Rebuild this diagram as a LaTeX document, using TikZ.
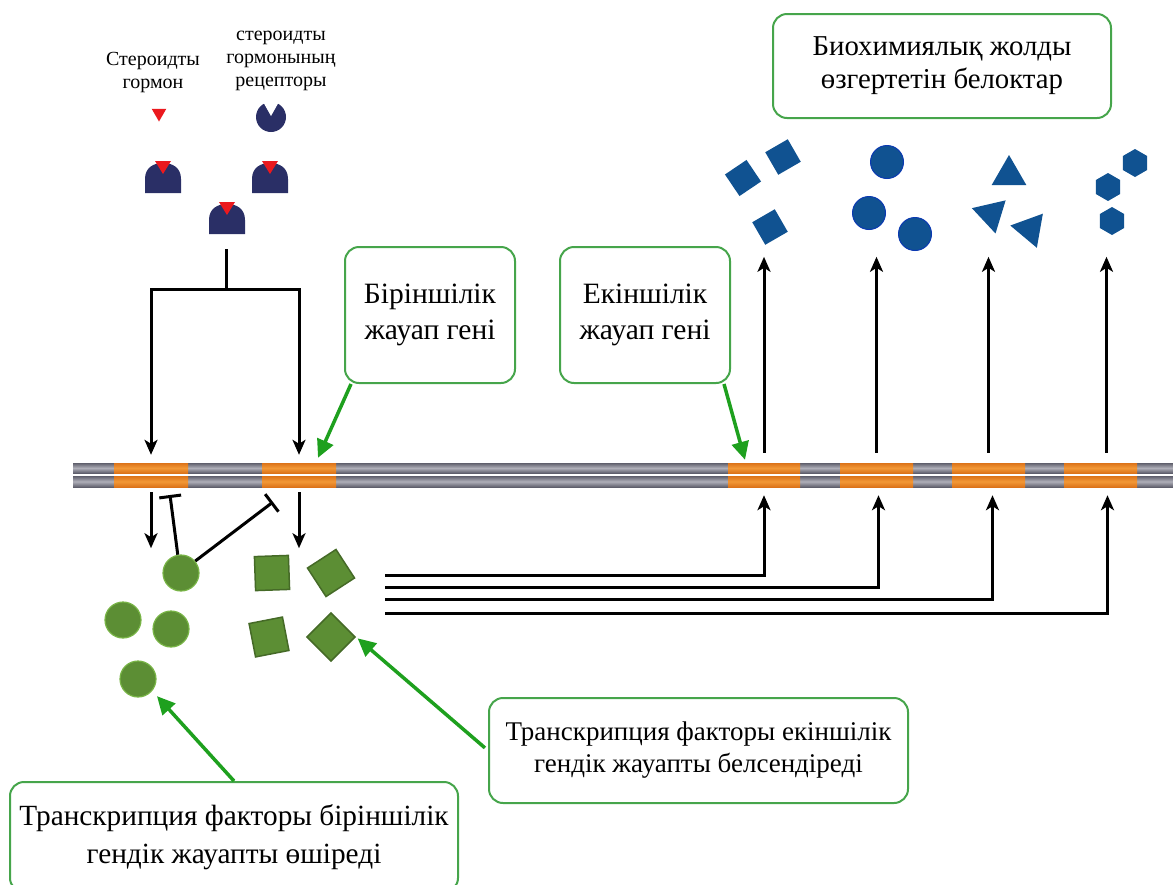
\documentclass[tikz,border=0pt]{standalone}
\usepackage{fontspec}
\setmainfont{Liberation Serif}
\usetikzlibrary{arrows.meta,shapes.geometric}
\definecolor{boxgreen}{RGB}{70,165,75}
\definecolor{arrgreen}{RGB}{30,160,30}
\definecolor{tfgreen}{RGB}{92,142,52}
\definecolor{tfrim}{RGB}{120,180,70}
\definecolor{protblue}{RGB}{16,82,145}
\definecolor{navyrec}{RGB}{42,47,102}
\definecolor{hormred}{RGB}{235,25,30}
\definecolor{dnagrey}{RGB}{95,95,108}
\definecolor{dnalight}{RGB}{175,175,185}
\definecolor{dnaor}{RGB}{220,115,25}
\definecolor{dnaorl}{RGB}{242,152,55}
\tikzset{
  arr/.style={line width=3pt,-{Stealth[length=15pt,width=13pt,inset=4pt]}},
  inhib/.style={line width=3pt,-{Bar[width=22pt]}},
  plain/.style={line width=3pt},
  garr/.style={draw=arrgreen,line width=3.5pt,-{Triangle[length=18pt,width=17pt]}},
  tbox/.style={draw=boxgreen,line width=2pt,rounded corners=14pt,align=center,fill=white,inner sep=0pt},
  segbox/.style={rectangle,inner sep=0pt,top color=dnaor,bottom color=dnaor,middle color=dnaorl},
  tfc/.style={circle,fill=tfgreen,draw=tfrim,line width=1.2pt,minimum size=36pt,inner sep=0pt},
  tfs/.style={rectangle,fill=tfgreen,draw=tfgreen!75!black,line width=1.5pt,minimum size=34pt,inner sep=0pt},
  bsq/.style={rectangle,fill=protblue,minimum size=26pt,inner sep=0pt},
  bci/.style={circle,fill=protblue,draw=protblue!70!blue,line width=1pt,minimum size=33pt,inner sep=0pt},
  btr/.style={regular polygon,regular polygon sides=3,fill=protblue,minimum size=40pt,inner sep=0pt},
  bhx/.style={regular polygon,regular polygon sides=6,fill=protblue,minimum size=28pt,inner sep=0pt},
  hormone/.style={regular polygon,regular polygon sides=3,shape border rotate=180,fill=hormred,minimum size=17pt,inner sep=0pt},
  complex/.pic={
    \fill[navyrec] (-18,15) -- (-18,1) .. controls (-18,-10) and (-10,-15) .. (0,-15)
      .. controls (10,-15) and (18,-10) .. (18,1) -- (18,15) -- cycle;
    \fill[hormred] (-8,-17) -- (8,-17) -- (0,-4) -- cycle;
  },
  receptor/.pic={
    \fill[navyrec] (0,0) circle (15);
    \fill[white] (-9,-17) -- (9,-17) -- (0,-1) -- cycle;
  },
}
\begin{document}
\begin{tikzpicture}[x=1pt,y=-1pt]
\useasboundingbox (0,0) rectangle (1173,884);
\clip (0,0) rectangle (1173,884);

% ---------- DNA ----------
\shade[top color=dnagrey,bottom color=dnagrey,middle color=dnalight] (73,463) rectangle (1173,473);
\shade[top color=dnagrey,bottom color=dnagrey,middle color=dnalight] (73,476) rectangle (1173,487);
\foreach \n/\cx/\w in {1/151/74,2/299/74,3/764/72,4/876.5/73,5/988.5/73,6/1100.5/73}{
  \node[segbox,minimum width=\w pt,minimum height=10pt] (s\n t) at (\cx,468) {};
  \node[segbox,minimum width=\w pt,minimum height=11pt] (s\n b) at (\cx,481.5) {};
}

% ---------- hormone and receptors ----------
\node[font=\fontsize{20}{23}\selectfont,align=center] (lh) at (153,73) {Стероидты\\гормон};
\node[font=\fontsize{20}{23}\selectfont,align=center] (lr) at (281,61) {стероидты\\гормонының\\рецепторы};
\node[hormone] (h) at (159,113) {};
\pic at (271,117) {receptor};
\pic at (163,178) {complex};
\pic at (270,178) {complex};
\pic at (227,219) {complex};
\coordinate (c3b) at (226,249);
\coordinate (split) at (226,289);
\draw[plain] (c3b) -- (split);
\draw[arr] (split) -| ([yshift=8pt]s1t.north);
\draw[arr] (split) -| ([yshift=8pt]s2t.north);

% ---------- transcription factors ----------
\node[tfc] (gc1) at (181,573) {};
\node[tfc] (gc2) at (123,620) {};
\node[tfc] (gc3) at (171,629) {};
\node[tfc] (gc4) at (138,679) {};
\node[tfs,rotate=2] (ts1) at (272,573) {};
\node[tfs,rotate=33] (ts2) at (331,573) {};
\node[tfs,rotate=11] (ts3) at (269,637) {};
\node[tfs,rotate=45] (ts4) at (331,637) {};

\draw[arr] ([yshift=-5pt]s1b.south) -- ++(0,56);
\draw[arr] ([yshift=-5pt]s2b.south) -- ++(0,56);
\coordinate (i1) at (170,495);
\coordinate (i2) at (273,502);
\draw[inhib] (gc1.100) -- (i1);
\draw[inhib] (gc1.40) -- (i2);

% ---------- secondary gene activation ----------
\coordinate (l1) at (385,575);
\coordinate (l2) at (385,587);
\coordinate (l3) at (385,599);
\coordinate (l4) at (385,613);
\draw[arr] (l1) -| ([yshift=-8pt]s3b.south);
\draw[arr] (l2) -| ([xshift=2pt,yshift=-8pt]s4b.south);
\draw[arr] (l3) -| ([xshift=4pt,yshift=-8pt]s5b.south);
\draw[arr] (l4) -| ([xshift=7pt,yshift=-8pt]s6b.south);

\draw[arr] ([yshift=10pt]s3t.north) -- ++(0,-196);
\draw[arr] ([yshift=10pt]s4t.north) -- ++(0,-196);
\draw[arr] ([yshift=10pt]s5t.north) -- ++(0,-196);
\draw[arr] ([xshift=6pt,yshift=10pt]s6t.north) -- ++(0,-196);

% ---------- proteins ----------
\node[bsq,rotate=34] (p1) at (743,178) {};
\node[bsq,rotate=30] (p2) at (783,157) {};
\node[bsq,rotate=30] (p3) at (770,227) {};
\node[bci] (p4) at (887,162) {};
\node[bci] (p5) at (869,213) {};
\node[bci] (p6) at (915,234) {};
\node[btr] (p7) at (1009,175) {};
\node[btr,rotate=193] (p8) at (991,214) {};
\node[btr,rotate=200] (p9) at (1030,229) {};
\node[bhx,rotate=30] (p10) at (1135,163) {};
\node[bhx,rotate=30] (p11) at (1108,187) {};
\node[bhx,rotate=30] (p12) at (1112,221) {};

% ---------- text boxes ----------
\node[tbox,minimum width=338pt,minimum height=104pt,font=\fontsize{28.8}{33}\selectfont] (bt) at (942,66) {Биохимиялық жолды\\өзгертетін белоктар};
\node[tbox,minimum width=170pt,minimum height=136pt,font=\fontsize{29.5}{36}\selectfont] (b1) at (430,315) {Біріншілік\\жауап гені};
\node[tbox,minimum width=170pt,minimum height=136pt,font=\fontsize{29.5}{36}\selectfont] (b2) at (645,315) {Екіншілік\\жауап гені};
\node[tbox,minimum width=448pt,minimum height=110pt,font=\fontsize{29.3}{38}\selectfont] (b3) at (234,837) {Транскрипция факторы біріншілік\\гендік жауапты өшіреді};
\node[tbox,minimum width=419pt,minimum height=105pt,font=\fontsize{27}{32}\selectfont] (b4) at (698.5,750.5) {Транскрипция факторы екіншілік\\гендік жауапты белсендіреді};

\draw[garr] ([xshift=7pt]b1.south west) -- ([xshift=19pt,yshift=5pt]s2t.north);
\draw[garr] ([xshift=-7pt]b2.south east) -- ([xshift=-19pt,yshift=3pt]s3t.north);
\draw[garr,shorten >=7pt] (b3.north) -- (gc4.-40);
\draw[garr,shorten >=2pt,shorten <=4pt] (b4.west) -- (ts4.south east);
\end{tikzpicture}
\end{document}
